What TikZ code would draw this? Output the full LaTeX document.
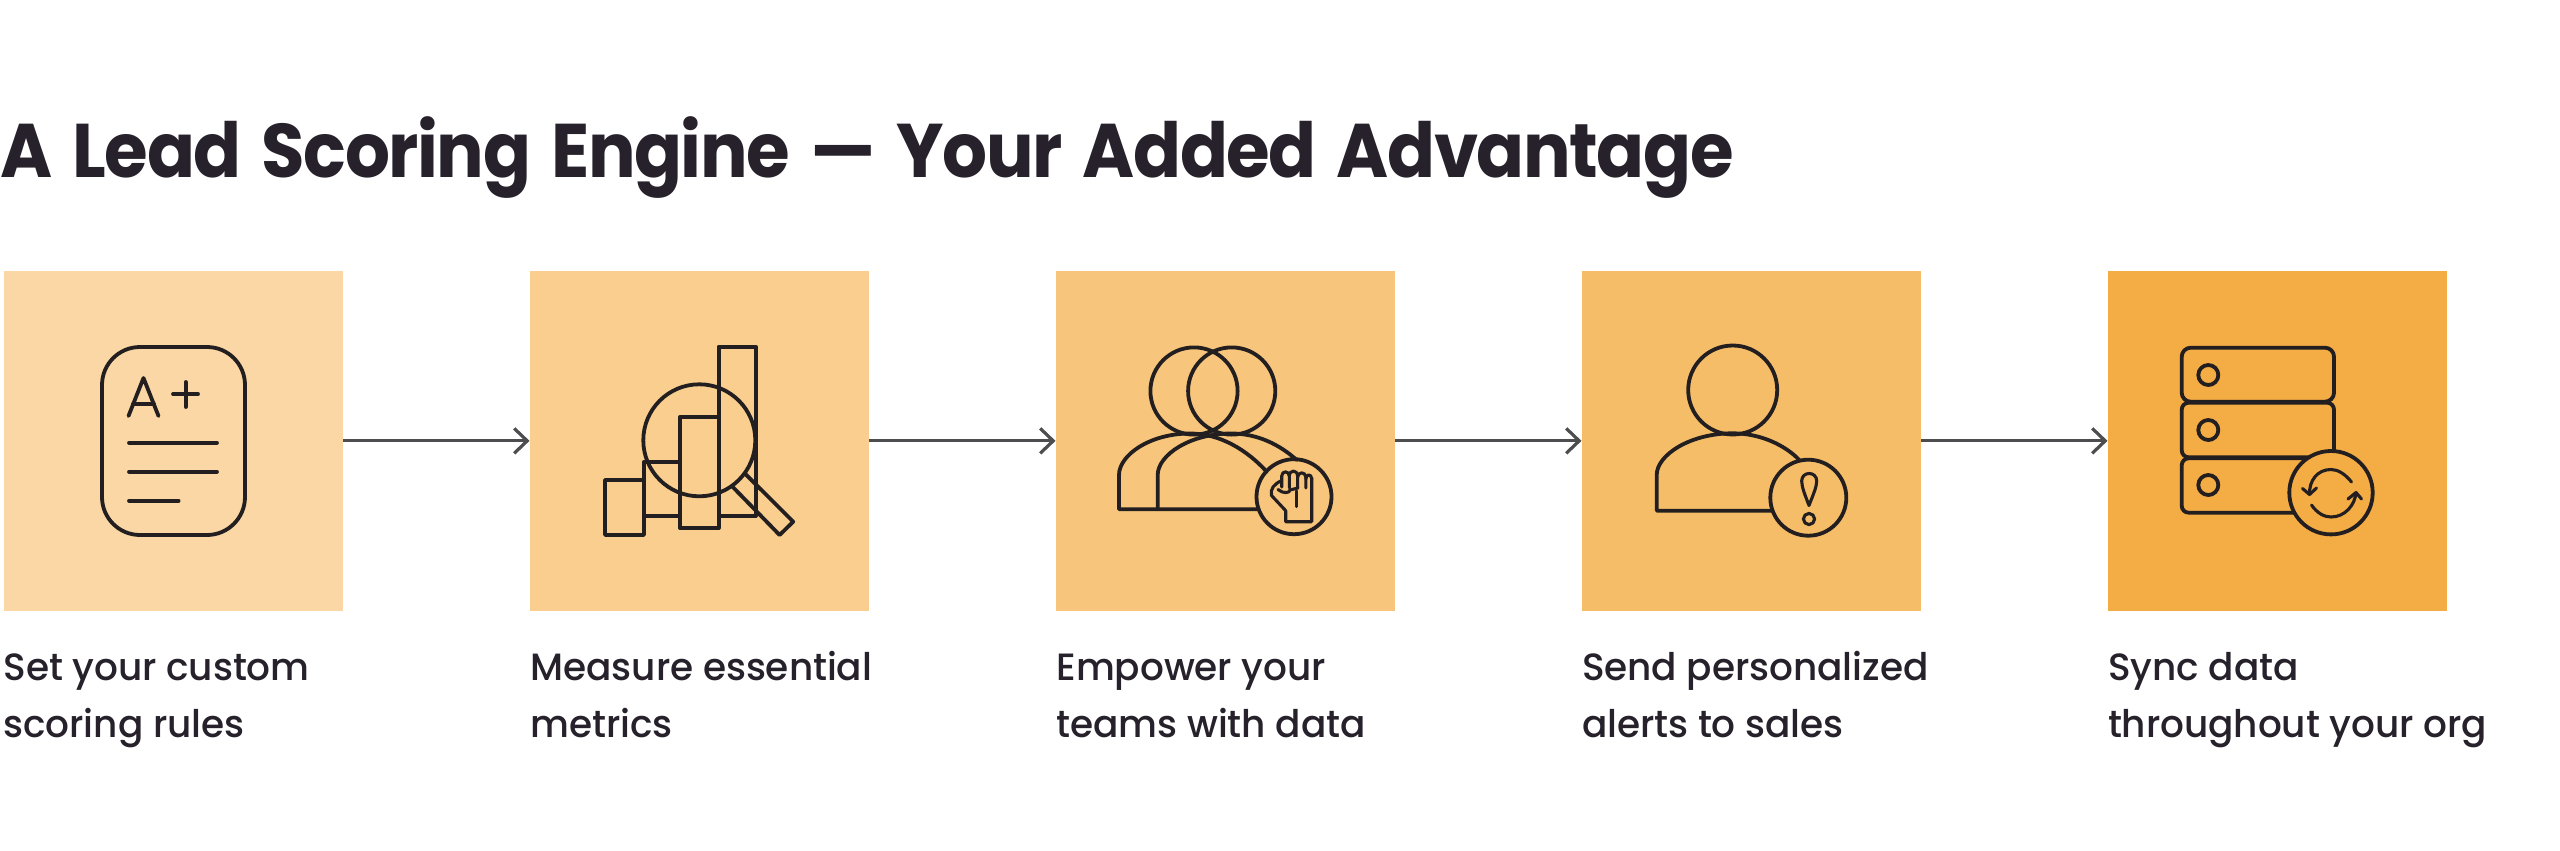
\documentclass[tikz,border=0pt]{standalone}
\usepackage{fontspec}
\setmainfont{Poppins}
\newfontfamily\titlefont[FakeStretch=0.93,LetterSpace=-1.9,WordSpace=1.5]{Poppins}[BoldFont={Poppins Bold}]
\newfontfamily\labelfont[FakeStretch=0.985,LetterSpace=-0.15]{Poppins Medium}
\usetikzlibrary{arrows.meta}
\definecolor{ink}{HTML}{26212A}
\definecolor{line}{HTML}{231F20}
\definecolor{arrowc}{HTML}{4D4D4F}
\definecolor{ca}{HTML}{FAD7A4}
\definecolor{cb}{HTML}{F9CE8E}
\definecolor{cc}{HTML}{F7C57B}
\definecolor{cd}{HTML}{F6BD69}
\definecolor{ce}{HTML}{F4AC44}
\tikzset{
  sq/.style={minimum size=339.5pt,inner sep=0pt,outer sep=0pt,draw=none},
  conn/.style={draw=arrowc,line width=3.2pt,-{Straight Barb[length=13pt,width=25pt,line width=3.2pt]}},
  ic/.style={draw=line,line width=3.8pt,line join=round,line cap=round},
  thin ic/.style={draw=line,line width=3.1pt,line join=round,line cap=round},
  lab/.style={anchor=base west,inner sep=0pt,outer sep=0pt,text=ink,font=\labelfont\fontsize{38}{38}\selectfont},
}
\begin{document}
\begin{tikzpicture}[x=1pt,y=-1pt]
\useasboundingbox (0,0) rectangle (2560,851);
\fill[white] (0,0) rectangle (2560,851);
\node[anchor=base west,inner sep=0pt,text=ink,font=\titlefont\bfseries\fontsize{76}{76}\selectfont] (title) at (0,177.7) {A Lead Scoring Engine — Your Added Advantage};

\node[sq,fill=ca] (s1) at (173.25,440.85) {};
\node[sq,fill=cb] (s2) at (699.25,440.85) {};
\node[sq,fill=cc] (s3) at (1225.25,440.85) {};
\node[sq,fill=cd] (s4) at (1751.25,440.85) {};
\node[sq,fill=ce] (s5) at (2277.25,440.85) {};
\draw[conn] (s1) -- (s2);
\draw[conn] (s2) -- (s3);
\draw[conn] (s3) -- (s4);
\draw[conn] (s4) -- (s5);

\node[lab] (l1a) at (3.5,680) {Set your custom};
\node[lab] (l1b) at (3.5,737) {scoring rules};
\node[lab] (l2a) at (530.5,680) {Measure essential};
\node[lab] (l2b) at (530.5,737) {metrics};
\node[lab] (l3a) at (1056.5,680) {Empower your};
\node[lab] (l3b) at (1056.5,737) {teams with data};
\node[lab] (l4a) at (1582,680) {Send personalized};
\node[lab] (l4b) at (1582,737) {alerts to sales};
\node[lab] (l5a) at (2108,680) {Sync data};
\node[lab] (l5b) at (2108,737) {throughout your org};

% icon 1
\draw[ic,rounded corners=38pt] (102,347) rectangle (245,535);
\draw[ic] (128.5,416) -- (143.5,378) -- (158.5,416);
\draw[ic] (133,404) -- (154,404);
\draw[ic] (173,394) -- (198,394);
\draw[ic] (185.7,382) -- (185.7,407);
\draw[ic] (129,442.7) -- (217,442.7);
\draw[ic] (129,471.7) -- (217,471.7);
\draw[ic] (129,500.7) -- (178.6,500.7);

% icon 2
\draw[ic] (718.6,346.7) rectangle (755.7,516);
\draw[ic] (680,416.7) rectangle (718.6,528.3);
\draw[ic] (644,461.7) rectangle (680,516);
\draw[ic] (605,480) rectangle (644,535);
\draw[ic] (699.3,440.3) circle[radius=56];
\draw[ic] (745.7,474.3) -- (793.2,521.7) -- (779.6,535) -- (732.5,486.7);

% icon 3
\draw[ic] (1194,391) circle[radius=43.6];
\draw[ic] (1231.7,391) circle[radius=43.6];
\draw[ic] (1258,509.3) -- (1119,509.3) -- (1119,475)
  .. controls (1119,455) and (1150,433.5) .. (1190,433.5)
  .. controls (1220,433.5) and (1247,450) .. (1266.7,471.7);
\draw[ic] (1157.7,509.3) -- (1157.7,475)
  .. controls (1157.7,455) and (1190,433.5) .. (1231,433.5)
  .. controls (1258,433.5) and (1280,445) .. (1296.7,460);
\draw[ic] (1294,496.7) circle[radius=37.5];
% fist
\draw[thin ic] (1285.7,510.7) -- (1285.7,521.7) -- (1311.7,521.7) -- (1311.7,478)
  (1285.7,510.7) -- (1271.5,495.5) .. controls (1270,489) and (1274,484) .. (1281.7,480.5);
\draw[thin ic] (1281.7,487) -- (1281.7,476) .. controls (1282,470.5) and (1289,470.5) .. (1289.3,476) -- (1289.3,488);
\draw[thin ic] (1289.3,476) .. controls (1289.6,469.5) and (1297.3,469.5) .. (1297.6,476) -- (1297.6,487);
\draw[thin ic] (1297.6,477) .. controls (1298,471.5) and (1305.5,471.5) .. (1305.8,477) -- (1305.8,488);
\draw[thin ic] (1305.8,479) .. controls (1306,473.5) and (1311.5,473.5) .. (1311.7,479);
\draw[thin ic] (1278,489.5) .. controls (1283,494) and (1290,493) .. (1290,490) -- (1298,488);
\draw[thin ic] (1296.7,491) -- (1296.7,506.5);

% icon 4
\draw[ic] (1732.7,390) circle[radius=44.5];
\draw[ic] (1771.7,510.7) -- (1656.7,510.7) -- (1656.7,475)
  .. controls (1656.7,455) and (1690,433.3) .. (1732.7,433.3)
  .. controls (1760,433.3) and (1785,445) .. (1799.3,460);
\draw[ic] (1808.3,497.7) circle[radius=38];
\draw[thin ic] (1809,505.5) .. controls (1805,495) and (1801.7,487) .. (1801.7,481)
  .. controls (1801.7,471) and (1816.7,471) .. (1816.7,481)
  .. controls (1816.7,487) and (1813,495) .. (1809,505.5) -- cycle;
\draw[thin ic] (1809,519) circle[radius=5.6];

% icon 5
\draw[ic,rounded corners=9pt] (2181.7,347.7) rectangle (2334,401.7);
\draw[ic,rounded corners=7pt] (2181.7,402.7) rectangle (2334,457.3);
\draw[ic,rounded corners=7pt] (2181.7,458.3) rectangle (2334,512.7);
\draw[ic] (2208.3,375) circle[radius=10];
\draw[ic] (2208.3,430) circle[radius=10];
\draw[ic] (2208.3,485) circle[radius=10];
\draw[ic,fill=ce] (2331,492.7) circle[radius=41.7];
\draw[thin ic] (2351.5,482) .. controls (2345,474) and (2338,469.5) .. (2331,469.5)
  .. controls (2317,469.5) and (2309,481) .. (2309.5,494.5);
\draw[thin ic] (2302.5,488.5) -- (2309.5,494.5) -- (2316.5,488);
\draw[thin ic] (2311.5,505) .. controls (2317,513) and (2324,517) .. (2331,517)
  .. controls (2345,517) and (2355,505) .. (2356,492.5);
\draw[thin ic] (2348,499) -- (2356,492.5) -- (2361.5,499);
\end{tikzpicture}
\end{document}
